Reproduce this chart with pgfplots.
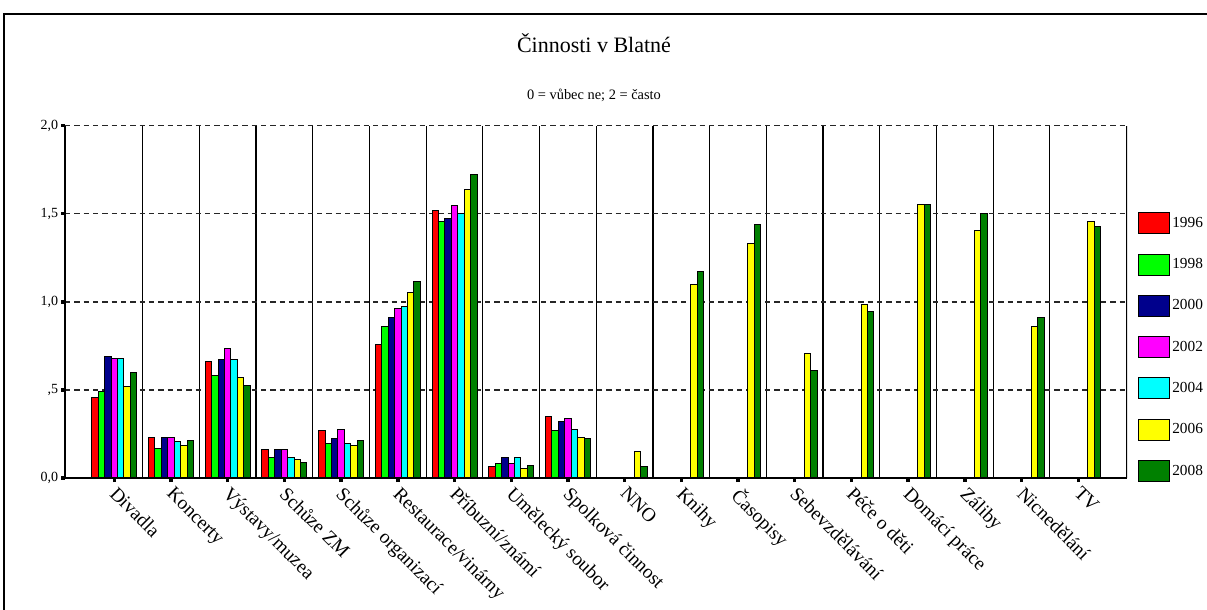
\documentclass[border=0pt]{standalone}
\usepackage{pgfplots}
\pgfplotsset{compat=1.18}
\usepackage{pgfplotstable}
\usepackage{fontspec}
\setmainfont{Liberation Serif}
\definecolor{c96}{RGB}{255,0,0}
\definecolor{c98}{RGB}{0,255,0}
\definecolor{c00}{RGB}{0,0,140}
\definecolor{c02}{RGB}{255,0,255}
\definecolor{c04}{RGB}{0,255,255}
\definecolor{c06}{RGB}{255,255,0}
\definecolor{c08}{RGB}{0,128,0}
\pgfplotstableread{
x  a     b     c     d     e     f     g
0  0.456 0.490 0.687 0.680 0.680 0.519 0.597
1  0.231 0.167 0.231 0.231 0.205 0.186 0.212
2  0.661 0.580 0.670 0.733 0.670 0.572 0.527
3  0.159 0.116 0.159 0.159 0.116 0.106 0.089
4  0.267 0.197 0.223 0.276 0.197 0.186 0.212
5  0.759 0.858 0.911 0.964 0.973 1.053 1.117
6  1.521 1.455 1.475 1.545 1.500 1.636 1.725
7  0.063 0.080 0.116 0.080 0.116 0.053 0.070
8  0.348 0.267 0.322 0.339 0.276 0.231 0.223
9  nan   nan   nan   nan   nan   0.152 0.063
10 nan   nan   nan   nan   nan   1.100 1.170
11 nan   nan   nan   nan   nan   1.333 1.441
12 nan   nan   nan   nan   nan   0.705 0.608
13 nan   nan   nan   nan   nan   0.983 0.947
14 nan   nan   nan   nan   nan   1.553 1.553
15 nan   nan   nan   nan   nan   1.403 1.500
16 nan   nan   nan   nan   nan   0.858 0.911
17 nan   nan   nan   nan   nan   1.455 1.430
}\datatable
\begin{document}
\begin{tikzpicture}
\useasboundingbox (-48.75pt,-99pt) rectangle (856.5pt,358.5pt);
\draw[line width=0.8pt] (-45.75pt,-99pt) -- (-45.75pt,348pt) -- (856.5pt,348pt);
\node[anchor=base,font=\fontsize{16.5}{18}\selectfont] at (396.75pt,318.75pt) {Činnosti v Blatné};
\node[anchor=base,font=\fontsize{10.8}{12}\selectfont] at (396.75pt,283.5pt) {0 = vůbec ne; 2 = často};
\begin{axis}[
  at={(0pt,0pt)}, anchor=south west,
  scale only axis, width=796.5pt, height=264.2pt,
  xmin=-0.87, xmax=17.86, ymin=0, ymax=2,
  axis lines=left, axis line style={-, line width=1pt},
  ybar=0pt, bar width=4.82pt,
  xtick={0,...,17},
  xticklabels={Divadla,Koncerty,Výstavy/muzea,Schůze ZM,Schůze organizací,Restaurace/vinárny,Příbuzní/známí,Umělecký soubor,Spolková činnost,NNO,Knihy,Časopisy,Sebevzdělávání,Péče o děti,Domácí práce,Záliby,Nicnedělání,TV},
  minor xtick={0.5,1.5,...,16.5},
  xminorgrids, minor x grid style={black, line width=0.9pt, solid},
  ytick={0,0.5,1,1.5,2},
  yticklabels={{0,0},{,5},{1,0},{1,5},{2,0}},
  ymajorgrids, major y grid style={black!85, line width=1pt, dash pattern=on 4pt off 3pt},
  tick align=outside, major tick length=3pt, minor tick length=0pt,
  tick style={black, line width=2.5pt},
  /pgf/number format/assume math mode=true,
  xticklabel style={xshift=3pt, yshift=-1pt, rotate=-45, anchor=north west, font=\fontsize{14.5}{16}\selectfont, inner sep=1pt},
  yticklabel style={font=\fontsize{10.5}{12}\selectfont, inner sep=2pt},
  every axis plot/.append style={draw=black, line width=0.75pt},
  legend image code/.code={\draw[#1, line width=0.75pt] (0pt,-7.9pt) rectangle (23.25pt,7.9pt);},
  legend cell align=left,
  legend style={draw=none, fill=none, at={(1.0104,0.755)}, anchor=north west, inner sep=0pt,
    row sep=14.4pt, font=\fontsize{11.5}{12}\selectfont,
    nodes={inner sep=1.5pt}},
]
\addplot[fill=c96] table[x=x,y=a] {\datatable};
\addplot[fill=c98] table[x=x,y=b] {\datatable};
\addplot[fill=c00] table[x=x,y=c] {\datatable};
\addplot[fill=c02] table[x=x,y=d] {\datatable};
\addplot[fill=c04] table[x=x,y=e] {\datatable};
\addplot[fill=c06] table[x=x,y=f] {\datatable};
\addplot[fill=c08] table[x=x,y=g] {\datatable};
\legend{1996,1998,2000,2002,2004,2006,2008}
\draw[line width=1pt] (rel axis cs:1,0) -- (rel axis cs:1,1);
\end{axis}
\end{tikzpicture}
\end{document}
